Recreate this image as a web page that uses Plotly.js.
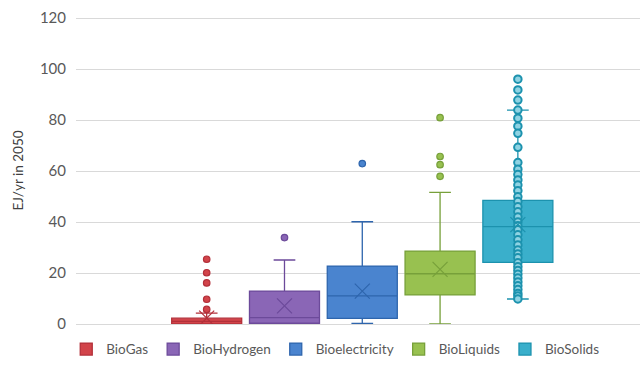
<!DOCTYPE html>
<html>
<head>
<meta charset="utf-8">
<script src="https://cdn.plot.ly/plotly-3.0.1.min.js"></script>
<style>html,body{margin:0;padding:0;background:#fff;}#chart{width:640px;height:374px;}</style>
</head>
<body>
<div id="chart"></div>
<script>
// Series names
const seriesNames = ["BioGas", "BioHydrogen", "Bioelectricity", "BioLiquids", "BioSolids"];
// Box statistics (EJ/yr in 2050)
const q1Vals     = [0.0, 0.3, 2.2, 11.4, 24.2];
const medianVals = [1.0, 2.5, 11.0, 19.7, 38.2];
const q3Vals     = [2.3, 12.9, 22.7, 28.6, 48.5];
const lowerVals  = [0.0, 0.0, 0.2, 0.0, 9.8];
const upperVals  = [4.3, 25.1, 40.1, 51.6, 83.9];
const meanVals   = [2.3, 7.1, 12.9, 21.4, 39.0];
// Outliers per series
const outBioGas = [25.4, 20.1, 16.1, 9.7, 5.7];
const outBioHydrogen = [33.9];
const outBioelectricity = [62.9];
const outBioLiquids = [80.9, 65.7, 62.5, 57.9];
const outBioSolids = [96.0, 91.8, 87.8];
// Inner points shown for BioSolids
const innerBioSolids = [83.9, 80.7, 77.6, 74.8, 69.3, 63.3, 60.7, 58.6, 56.5, 54.5, 52.3, 49.9,
  48.0, 46.0, 44.0, 42.0, 40.0, 38.5, 37.0, 35.0, 33.0, 31.0, 29.0, 27.5, 26.0, 24.0,
  22.5, 21.0, 19.5, 18.0, 16.5, 15.0, 13.5, 12.0, 11.0, 9.8];
// Y axis ticks
const yTicks = [0, 20, 40, 60, 80, 100, 120];

const fills = ["#D2444A", "#8A66B6", "#4A84CF", "#98C150", "#3AAFCB"];
const lines = ["#B3303A", "#6C4A9A", "#2E65AD", "#77A03A", "#1C92AE"];
const outliers = [outBioGas, outBioHydrogen, outBioelectricity, outBioLiquids, outBioSolids];

const traces = [];
seriesNames.forEach((n, i) => {
  traces.push({
    type: "box", name: n, x: [n],
    q1: [q1Vals[i]], median: [medianVals[i]], q3: [q3Vals[i]],
    lowerfence: [lowerVals[i]], upperfence: [upperVals[i]],
    boxpoints: false, width: 0.9, whiskerwidth: 0.31,
    fillcolor: fills[i], line: {color: lines[i], width: 1.3},
    hoverinfo: "skip"
  });
});
// inner points for BioSolids
traces.push({
  type: "scatter", mode: "markers", x: innerBioSolids.map(() => seriesNames[4]), y: innerBioSolids,
  marker: {symbol: "circle", size: 7.5, color: "#8fd3e3", line: {color: lines[4], width: 2}},
  showlegend: false, hoverinfo: "skip"
});
seriesNames.forEach((n, i) => {
  const big = i === 4;
  traces.push({
    type: "scatter", mode: "markers", x: outliers[i].map(() => n), y: outliers[i],
    marker: {symbol: "circle", size: big ? 7.5 : 6.5, color: big ? "#8fd3e3" : fills[i],
      line: {color: lines[i], width: big ? 2 : 1.2}},
    showlegend: false, hoverinfo: "skip"
  });
  traces.push({
    type: "scatter", mode: "markers", x: [n], y: [meanVals[i]],
    marker: {symbol: "x-thin-open", size: 15, color: lines[i], line: {color: lines[i], width: 1.2}},
    showlegend: false, hoverinfo: "skip"
  });
});

const layout = {
  width: 640, height: 374,
  margin: {l: 76, r: 0, t: 17, b: 50},
  paper_bgcolor: "#ffffff", plot_bgcolor: "#ffffff",
  font: {family: "Lato, 'Open Sans', sans-serif", color: "#595959", size: 14},
  showlegend: true,
  boxmode: "overlay",
  xaxis: {type: "category", categoryarray: seriesNames, range: [-1.68, 5.57],
    showticklabels: false, showgrid: false, zeroline: false, showline: false, ticks: "", fixedrange: true},
  yaxis: {range: [0, 120.4], tickvals: yTicks, ticktext: yTicks.map(String),
    showgrid: true, gridcolor: "#d9d9d9", gridwidth: 1, zeroline: true, zerolinecolor: "#d9d9d9", zerolinewidth: 1,
    showline: false, ticks: "", ticklabelstandoff: 9,
    tickfont: {size: 15, color: "#595959"},
    title: {text: "EJ/yr in 2050", font: {size: 13.5, color: "#404040"}, standoff: 13}},
  legend: {orientation: "h", x: -0.0173, xanchor: "left", y: -0.032, yanchor: "top",
    font: {size: 13.5, color: "#595959"}, itemwidth: 30, tracegroupgap: 0, bgcolor: "rgba(0,0,0,0)"}
};

Plotly.newPlot("chart", traces, layout, {displayModeBar: false, staticPlot: true});
</script>
</body>
</html>
